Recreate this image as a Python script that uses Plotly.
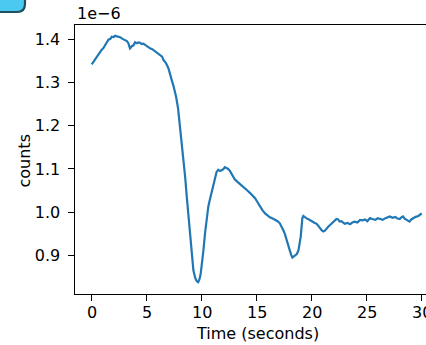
import plotly.graph_objects as go

# Data (counts in units of 1e-6)
time_s = [0.0, 0.2, 0.45, 0.7, 0.91, 1.05, 1.21, 1.35, 1.52, 1.7, 1.82, 2.0, 2.12, 2.35, 2.58, 2.8, 3.03, 3.2, 3.33, 3.42, 3.48, 3.56, 3.64, 3.8, 3.94, 4.1, 4.25, 4.39, 4.55, 4.7, 4.85, 5.0, 5.15, 5.3, 5.5, 5.76, 6.0, 6.21, 6.4, 6.52, 6.75, 6.97, 7.12, 7.27, 7.45, 7.67, 7.85, 8.03, 8.18, 8.33, 8.5, 8.64, 8.8, 8.94, 9.1, 9.24, 9.4, 9.55, 9.68, 9.79, 9.9, 10.0, 10.15, 10.3, 10.45, 10.6, 10.75, 10.9, 11.05, 11.2, 11.35, 11.5, 11.65, 11.8, 11.95, 12.1, 12.25, 12.4, 12.55, 12.7, 12.85, 13.0, 13.25, 13.5, 13.7, 13.9, 14.15, 14.4, 14.6, 14.85, 15.05, 15.3, 15.5, 15.76, 16.0, 16.2, 16.45, 16.7, 16.9, 17.1, 17.25, 17.4, 17.55, 17.7, 17.85, 18.0, 18.12, 18.24, 18.35, 18.5, 18.65, 18.8, 18.9, 19.0, 19.08, 19.15, 19.24, 19.35, 19.5, 19.75, 20.0, 20.2, 20.45, 20.6, 20.76, 20.9, 21.06, 21.2, 21.36, 21.5, 21.67, 21.9, 22.1, 22.25, 22.4, 22.55, 22.7, 22.85, 23.0, 23.25, 23.5, 23.7, 23.9, 24.15, 24.4, 24.6, 24.85, 25.05, 25.3, 25.5, 25.8, 26.0, 26.2, 26.45, 26.7, 26.9, 27.1, 27.35, 27.6, 27.8, 28.0, 28.15, 28.3, 28.45, 28.6, 28.75, 28.9, 29.05, 29.2, 29.45, 29.7, 29.85, 30.0]
counts_e6 = [1.342, 1.350, 1.360, 1.368, 1.376, 1.379, 1.388, 1.392, 1.399, 1.401, 1.406, 1.405, 1.408, 1.407, 1.405, 1.401, 1.398, 1.396, 1.391, 1.384, 1.379, 1.381, 1.384, 1.386, 1.393, 1.391, 1.393, 1.392, 1.389, 1.390, 1.387, 1.385, 1.383, 1.379, 1.377, 1.372, 1.369, 1.364, 1.360, 1.352, 1.345, 1.333, 1.322, 1.306, 1.290, 1.267, 1.240, 1.198, 1.160, 1.121, 1.080, 1.036, 0.990, 0.943, 0.900, 0.866, 0.848, 0.840, 0.838, 0.844, 0.856, 0.874, 0.910, 0.951, 0.985, 1.013, 1.030, 1.046, 1.062, 1.082, 1.093, 1.098, 1.095, 1.097, 1.099, 1.104, 1.102, 1.100, 1.096, 1.090, 1.083, 1.076, 1.070, 1.065, 1.061, 1.055, 1.050, 1.044, 1.039, 1.032, 1.024, 1.013, 1.005, 0.997, 0.991, 0.988, 0.985, 0.982, 0.979, 0.974, 0.968, 0.959, 0.950, 0.939, 0.927, 0.912, 0.902, 0.895, 0.897, 0.901, 0.903, 0.912, 0.925, 0.943, 0.966, 0.986, 0.991, 0.988, 0.986, 0.983, 0.978, 0.976, 0.973, 0.969, 0.963, 0.958, 0.955, 0.957, 0.963, 0.966, 0.970, 0.976, 0.982, 0.984, 0.983, 0.978, 0.979, 0.975, 0.973, 0.975, 0.972, 0.976, 0.978, 0.976, 0.982, 0.981, 0.983, 0.979, 0.986, 0.984, 0.982, 0.986, 0.985, 0.982, 0.986, 0.988, 0.990, 0.987, 0.989, 0.985, 0.984, 0.988, 0.990, 0.985, 0.982, 0.980, 0.978, 0.983, 0.986, 0.989, 0.991, 0.994, 0.997]

x_ticks = [0, 5, 10, 15, 20, 25, 30]
x_tick_labels = ["0", "5", "10", "15", "20", "25", "30"]
y_ticks = [0.9, 1.0, 1.1, 1.2, 1.3, 1.4]
y_tick_labels = ["0.9", "1.0", "1.1", "1.2", "1.3", "1.4"]

W, H = 426, 345
L, R, T, B = 75, 0, 25, 51
pw, ph = W - L - R, H - T - B

def px2paper(x, y):
    return (x - L) / pw, (H - B - y) / ph

font = dict(family="DejaVu Sans", size=16, color="black")

fig = go.Figure()
fig.add_trace(go.Scatter(x=time_s, y=counts_e6, mode="lines",
                         line=dict(color="#1f77b4", width=2.2), showlegend=False))

# decorative cut-off box at top-left
a = px2paper(-6, -6); b = px2paper(25, -6); c = px2paper(25, 4)
q = px2paper(25, 12); d = px2paper(17, 12); e = px2paper(-6, 12)
path = (f"M {a[0]},{a[1]} L {b[0]},{b[1]} L {c[0]},{c[1]} "
        f"Q {q[0]},{q[1]} {d[0]},{d[1]} L {e[0]},{e[1]} Z")
fig.add_shape(type="path", path=path, xref="paper", yref="paper",
              fillcolor="#4cc9f0", line=dict(color="#1d4f60", width=2.2), layer="above")

# x tick labels drawn as annotations so the last one is clipped at the edge
tick_annots = [dict(text=t, x=v, xref="x", yref="paper", y=px2paper(0, 312)[1],
                    showarrow=False, xanchor="center", yanchor="middle", font=font)
               for v, t in zip(x_ticks, x_tick_labels)]

fig.update_layout(
    width=W, height=H,
    margin=dict(l=L, r=R, t=T, b=B, pad=0, autoexpand=False),
    plot_bgcolor="white", paper_bgcolor="white",
    font=font,
    xaxis=dict(range=[-1.52, 30.39], tickvals=x_ticks, ticks="outside", ticklen=5.5,
               tickwidth=1.1, tickcolor="black", showline=True, linecolor="black",
               linewidth=1.1, mirror=True, showgrid=False, zeroline=False,
               showticklabels=False, automargin=False),
    yaxis=dict(range=[0.8104, 1.4331], tickvals=y_ticks, ticktext=y_tick_labels,
               ticks="outside", ticklen=5.5, tickwidth=1.1, tickcolor="black",
               showline=True, linecolor="black", linewidth=1.1, mirror=False,
               showgrid=False, zeroline=False, ticklabelstandoff=5, tickfont=font,
               automargin=False),
    annotations=tick_annots + [
        dict(text="Time (seconds)", xref="paper", yref="paper",
             x=px2paper(257, 0)[0], y=px2paper(0, 333)[1], showarrow=False,
             xanchor="center", yanchor="middle", font=font),
        dict(text="counts", xref="paper", yref="paper", textangle=-90,
             x=px2paper(23.5, 0)[0], y=px2paper(0, 161)[1], showarrow=False,
             xanchor="center", yanchor="middle", font=font),
        dict(text="1e\u22126", xref="paper", yref="paper",
             x=0, y=px2paper(0, 14)[1], showarrow=False,
             xanchor="left", yanchor="middle", font=font),
    ],
)

fig.write_html("out.html", config={"displayModeBar": False},
               post_script="document.body.style.margin='0';document.body.style.overflow='hidden';")
